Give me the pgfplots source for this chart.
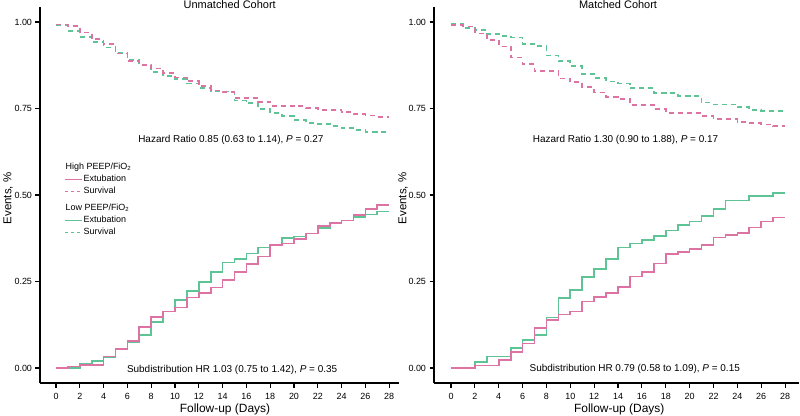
\documentclass[border=0pt]{standalone}
\usepackage{fontspec}
\setmainfont{Liberation Sans}
\usepackage{pgfplots}
\usepackage{pgfplotstable}
\pgfplotsset{compat=1.18}

\definecolor{hipink}{RGB}{221,115,162}
\definecolor{logreen}{RGB}{94,196,150}

% step values per day; the row at day 28 repeats the last value
\pgfplotstableread{
day hiExt hiSurv loExt loSurv
0  0.000 0.993 0.000 0.991
1  0.004 0.989 0.000 0.975
2  0.008 0.970 0.012 0.957
3  0.008 0.951 0.020 0.942
4  0.033 0.937 0.030 0.926
5  0.055 0.909 0.056 0.910
6  0.079 0.888 0.076 0.890
7  0.119 0.876 0.095 0.874
8  0.148 0.866 0.132 0.856
9  0.163 0.852 0.163 0.843
10 0.175 0.840 0.197 0.835
11 0.204 0.829 0.222 0.822
12 0.216 0.815 0.249 0.810
13 0.233 0.802 0.278 0.800
14 0.254 0.797 0.305 0.799
15 0.278 0.781 0.316 0.773
16 0.300 0.781 0.331 0.766
17 0.322 0.769 0.348 0.748
18 0.355 0.758 0.357 0.736
19 0.360 0.758 0.375 0.728
20 0.372 0.757 0.380 0.717
21 0.389 0.752 0.389 0.709
22 0.411 0.746 0.404 0.705
23 0.420 0.746 0.418 0.700
24 0.426 0.740 0.426 0.693
25 0.442 0.734 0.437 0.688
26 0.460 0.730 0.444 0.683
27 0.471 0.726 0.452 0.683
28 0.471 0.726 0.452 0.683
}\unmatched

\pgfplotstableread{
day hiExt hiSurv loExt loSurv
0  0.000 0.991 0.000 0.994
1  0.000 0.987 0.000 0.982
2  0.007 0.967 0.017 0.977
3  0.007 0.947 0.033 0.965
4  0.023 0.929 0.033 0.960
5  0.047 0.897 0.057 0.955
6  0.071 0.879 0.081 0.936
7  0.115 0.859 0.095 0.931
8  0.139 0.859 0.146 0.903
9  0.155 0.837 0.203 0.887
10 0.163 0.826 0.225 0.873
11 0.192 0.813 0.262 0.849
12 0.206 0.796 0.286 0.839
13 0.216 0.784 0.315 0.828
14 0.235 0.777 0.348 0.822
15 0.264 0.760 0.360 0.810
16 0.278 0.760 0.370 0.810
17 0.302 0.748 0.381 0.794
18 0.329 0.738 0.397 0.794
19 0.336 0.738 0.413 0.786
20 0.343 0.736 0.423 0.786
21 0.355 0.728 0.439 0.767
22 0.377 0.719 0.460 0.762
23 0.384 0.719 0.484 0.762
24 0.391 0.712 0.484 0.755
25 0.406 0.709 0.498 0.746
26 0.423 0.704 0.498 0.743
27 0.435 0.699 0.505 0.743
28 0.435 0.699 0.505 0.743
}\matched

\pgfplotsset{
  kmpanel/.style={
    scale only axis,
    height=376bp,
    ymin=-0.0434, ymax=1.0434,
    axis x line=bottom, axis y line=left,
    axis line style={-, line width=1.8bp, black},
    tick align=outside,
    major tick length=4.5bp,
    tick style={line width=1.1bp, black},
    xtick={0,2,...,28},
    ytick={0,0.25,0.5,0.75,1},
    yticklabel style={/pgf/number format/.cd, fixed, fixed zerofill, precision=2},
    xticklabel style={yshift=-2bp},
    /pgf/number format/assume math mode=true,
    tick label style={font=\fontsize{9}{10}\selectfont},
    clip=false,
  },
  ext/.style={const plot, no marks, line width=1.7bp},
  surv/.style={const plot, no marks, line width=1.7bp, dash pattern=on 5bp off 4bp},
}

\begin{document}
\begin{tikzpicture}
\path[use as bounding box] (0,0) rectangle (800bp,416bp);

% ---- unmatched cohort
\begin{axis}[kmpanel,
    at={(40bp,33bp)}, anchor=south west,
    width=358.7bp, xmin=-1.345, xmax=28.8,
    legend style={at={(axis cs:0.67,0.595)}, anchor=north west,
      draw=none, fill=none, font=\fontsize{9}{10}\selectfont,
      inner xsep=0pt, inner ysep=0pt, row sep=1.5bp,
      nodes={inner sep=1pt, text height=6.5bp, text depth=2bp}},
    legend cell align=left,
    legend image code/.code={\draw[#1] (0bp,0bp) -- (17bp,0bp);},
  ]
\addplot[ext, logreen, forget plot] table[x=day, y=loExt] {\unmatched};
\addplot[ext, hipink, forget plot] table[x=day, y=hiExt] {\unmatched};
\addplot[surv, logreen, forget plot] table[x=day, y=loSurv] {\unmatched};
\addplot[surv, hipink, forget plot] table[x=day, y=hiSurv] {\unmatched};

\addlegendimage{empty legend}
\addlegendentry{\hspace*{-18bp}High PEEP/FiO\textsubscript{2}}
\addlegendimage{hipink, line width=1.5bp}
\addlegendentry{Extubation}
\addlegendimage{hipink, line width=1.5bp, dash pattern=on 3bp off 3bp}
\addlegendentry{Survival}
\addlegendimage{empty legend}
\addlegendentry[text height=11.5bp]{\hspace*{-18bp}Low PEEP/FiO\textsubscript{2}}
\addlegendimage{logreen, line width=1.5bp}
\addlegendentry{Extubation}
\addlegendimage{logreen, line width=1.5bp, dash pattern=on 3bp off 3bp}
\addlegendentry{Survival}

\node[font=\fontsize{11}{12}\selectfont] at (axis cs:14.6,1.049) {Unmatched Cohort};
\node[font=\fontsize{10}{12}\selectfont] at (axis cs:14.7,0.659)
  {Hazard Ratio 0.85 (0.63 to 1.14), \textit{P} = 0.27};
\node[font=\fontsize{10}{12}\selectfont] at (axis cs:14.8,-0.007)
  {Subdistribution HR 1.03 (0.75 to 1.42), \textit{P} = 0.35};
\node[font=\fontsize{12}{14}\selectfont] at (axis cs:14.2,-0.121) {Follow-up (Days)};
\node[font=\fontsize{11.5}{13}\selectfont, rotate=90] at (axis cs:-4.03,0.49) {Events, \%};
\end{axis}

% ---- matched cohort
\begin{axis}[kmpanel,
    at={(434bp,33bp)}, anchor=south west,
    width=365.4bp, xmin=-1.425, xmax=29.2,
  ]
\addplot[ext, logreen] table[x=day, y=loExt] {\matched};
\addplot[ext, hipink] table[x=day, y=hiExt] {\matched};
\addplot[surv, logreen] table[x=day, y=loSurv] {\matched};
\addplot[surv, hipink] table[x=day, y=hiSurv] {\matched};

\node[font=\fontsize{11}{12}\selectfont] at (axis cs:14.0,1.049) {Matched Cohort};
\node[font=\fontsize{10}{12}\selectfont] at (axis cs:14.63,0.659)
  {Hazard Ratio 1.30 (0.90 to 1.88), \textit{P} = 0.17};
\node[font=\fontsize{10}{12}\selectfont] at (axis cs:15.4,-0.003)
  {Subdistribution HR 0.79 (0.58 to 1.09), \textit{P} = 0.15};
\node[font=\fontsize{12}{14}\selectfont] at (axis cs:14.1,-0.121) {Follow-up (Days)};
\node[font=\fontsize{11.5}{13}\selectfont, rotate=90] at (axis cs:-4.02,0.49) {Events, \%};
\end{axis}
\end{tikzpicture}
\end{document}
